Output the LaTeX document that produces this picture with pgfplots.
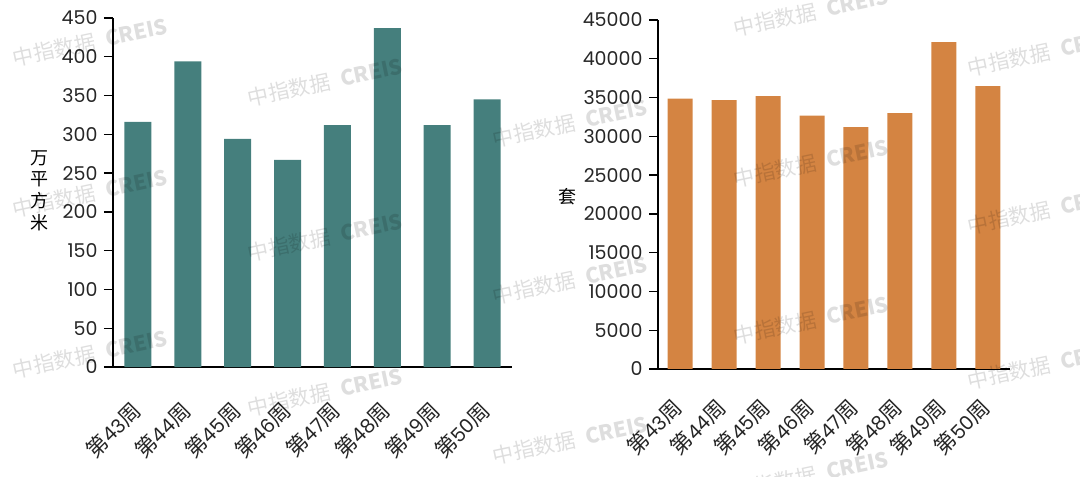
\documentclass[border=0pt]{standalone}
\usepackage{fontspec}
\usepackage{pgfplots}
\pgfplotsset{compat=1.18}
\setmainfont{Poppins}
\newfontfamily\cjk{Noto Sans CJK SC}
\newfontfamily\cjkx[Scale=1.1]{Noto Sans CJK SC}
\definecolor{barteal}{RGB}{69,127,125}
\definecolor{barorange}{RGB}{212,132,66}

\pgfplotstableread{
x v
0 316
1 394
2 294
3 267
4 312
5 437
6 312
7 345
}\areadata

\pgfplotstableread{
x v
0 34850
1 34680
2 35200
3 32680
4 31180
5 32980
6 42150
7 36480
}\unitdata

\pgfplotsset{
  common/.style={
    scale only axis, height=349pt, anchor=south west,
    axis x line*=bottom, axis y line*=left,
    axis line style={-, line width=1.6pt, black},
    xmin=-0.5, xmax=7.5, xtick={0,...,7},
    xticklabels={{\cjkx 第}43{\cjkx 周},{\cjkx 第}44{\cjkx 周},{\cjkx 第}45{\cjkx 周},{\cjkx 第}46{\cjkx 周},{\cjkx 第}47{\cjkx 周},{\cjkx 第}48{\cjkx 周},{\cjkx 第}49{\cjkx 周},{\cjkx 第}50{\cjkx 周}},
    xtick style={draw=none},
    ytick style={line width=1.3pt, black},
    tick align=outside, major tick length=9pt,
    ymin=0,
    scaled y ticks=false,
    /pgf/number format/assume math mode=true,
    /pgf/number format/set thousands separator={},
    yticklabel style={font=\fontsize{19}{19}\selectfont, text=black!85, xshift=-3pt},
    ylabel style={font=\fontsize{18}{21.5}\selectfont, rotate=-90, anchor=center},
    clip=false,
  }
}

\begin{document}
\begin{tikzpicture}
\useasboundingbox (0,0) rectangle (1080pt,477pt);

\begin{axis}[common,
  at={(113pt,110pt)}, width=399pt,
  ymax=450, ytick={0,50,...,450},
  xticklabel style={font=\fontsize{19.5}{19.5}\selectfont, text=black!85, inner sep=0pt, yshift=-30pt, xshift=-1pt, rotate=45, anchor=east},
  ylabel={\cjk\begin{tabular}{@{}c@{}}万\\平\\方\\米\end{tabular}},
  ylabel style={at={(axis description cs:-0.183,0.50)}},
]
\addplot[ybar, bar width=27pt, fill=barteal, draw=none] table[x=x,y=v] {\areadata};
\end{axis}

\begin{axis}[common,
  at={(658pt,108pt)}, width=352pt,
  ymax=45000, ytick={0,5000,...,45000},
  xticklabel style={font=\fontsize{19.5}{19.5}\selectfont, text=black!85, inner sep=0pt, yshift=-25pt, xshift=-2pt, rotate=45, anchor=east},
  ylabel={\cjk 套},
  ylabel style={at={(axis description cs:-0.256,0.493)}},
]
\addplot[ybar, bar width=25pt, fill=barorange, draw=none] table[x=x,y=v] {\unitdata};
\end{axis}

% watermarks
\begin{scope}[every node/.style={font=\cjk\fontsize{21}{21}\selectfont, text=black, opacity=0.13, rotate=12, anchor=center}]
\foreach \px/\py in {90/42, 90/193, 90/354,
                     325/82, 325/237, 325/392,
                     570/123, 570/280, 570/440,
                     811/12, 811/163, 811/320, 811/475,
                     1045/52, 1045/210, 1045/365}
  \node at (\px pt, 477pt-\py pt) {中指数据\hspace{0.5em}\textbf{CREIS}};
\end{scope}
\end{tikzpicture}
\end{document}
